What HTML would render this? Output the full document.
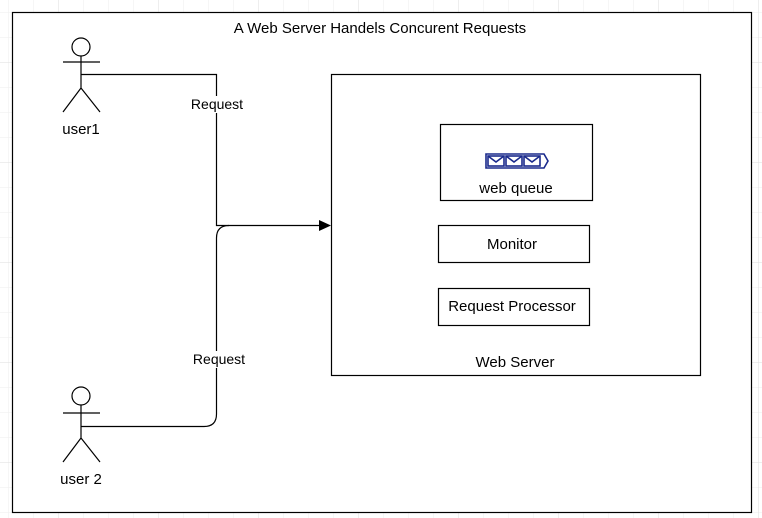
<!DOCTYPE html>
<html><head><style>html,body{margin:0;padding:0;background:#fff;}svg{display:block;}</style></head>
<body>
<svg width="762" height="518" xmlns="http://www.w3.org/2000/svg" font-family="Liberation Sans, Arial, sans-serif" font-size="15">
<defs>
<pattern id="g" x="8" y="12" width="25" height="25" patternUnits="userSpaceOnUse">
<path d="M0 0V25M0 0H25" stroke="#eee" stroke-width="1" fill="none"/>
</pattern>
<pattern id="G" x="58" y="62" width="100" height="100" patternUnits="userSpaceOnUse">
<path d="M0 0V100M0 0H100" stroke="#ddd" stroke-width="1" fill="none"/>
</pattern>
</defs>
<rect width="762" height="518" fill="url(#g)"/>
<rect width="762" height="518" fill="url(#G)"/>
<rect x="12.5" y="12.5" width="739" height="500" fill="#fff" stroke="#000" stroke-width="1.2"/>
<text x="380" y="33" text-anchor="middle">A Web Server Handels Concurent Requests</text>

<rect x="331.5" y="74.5" width="369" height="301" fill="#fff" stroke="#000" stroke-width="1.2"/>
<text x="515" y="367" text-anchor="middle">Web Server</text>
<rect x="440.5" y="124.5" width="152" height="76" fill="#fff" stroke="#000" stroke-width="1.2"/>
<g stroke="#1a2a8c" stroke-width="1.6" fill="#fff">
<path d="M486 154H544L548 161L544 168H486Z"/>
<rect x="488" y="156" width="16" height="10"/><rect x="506" y="156" width="16" height="10"/><rect x="524" y="156" width="16" height="10"/>
<path d="M488 156L496 162L504 156M506 156L514 162L522 156M524 156L532 162L540 156" fill="none"/>
</g>
<text x="516" y="193" text-anchor="middle">web queue</text>
<rect x="438.5" y="225.5" width="151" height="37" fill="#fff" stroke="#000" stroke-width="1.2"/>
<text x="512" y="249" text-anchor="middle">Monitor</text>
<rect x="438.5" y="288.5" width="151" height="37" fill="#fff" stroke="#000" stroke-width="1.2"/>
<text x="512" y="311" text-anchor="middle">Request Processor</text>

<g stroke="#000" stroke-width="1.2" fill="none">
<circle cx="81" cy="47" r="9"/>
<path d="M63 62H100M81 56V88M81 88L63 112M81 88L100 112"/>
<circle cx="81" cy="396" r="9"/>
<path d="M63 413H100M81 405V438M81 438L63 462M81 438L100 462"/>
<path d="M81 74.5H216.5V225.5H324"/>
<path d="M81 426.5H204Q216.5 426.5 216.5 414V238Q216.5 225.5 229 225.5"/>
</g>
<path d="M331 225.5L319 220V231Z" fill="#000"/>
<rect x="188" y="96" width="58" height="17" fill="#fff"/>
<text x="217" y="109" text-anchor="middle" font-size="14">Request</text>
<rect x="190" y="351" width="58" height="17" fill="#fff"/>
<text x="219" y="364" text-anchor="middle" font-size="14">Request</text>
<text x="81" y="134" text-anchor="middle">user1</text>
<text x="81" y="484" text-anchor="middle">user 2</text>
</svg>
</body></html>
